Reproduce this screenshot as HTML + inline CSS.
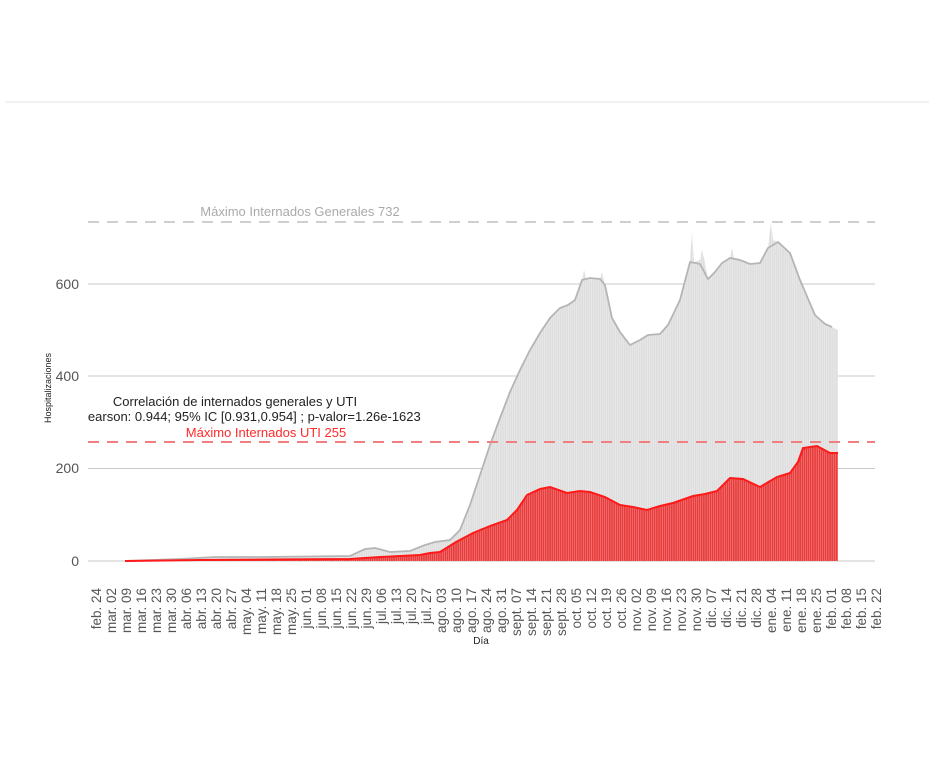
<!DOCTYPE html><html><head><meta charset="utf-8"><style>body{margin:0;background:#fff}svg{display:block;font-family:"Liberation Sans",Arial,sans-serif}</style></head><body>
<svg width="929" height="781" viewBox="0 0 929 781">
<defs>
<pattern id="pg" width="2.137" height="10" patternUnits="userSpaceOnUse"><rect width="2.137" height="10" fill="#dedede"/><rect x="1.7" width="0.45" height="10" fill="#f2f2f2"/></pattern>
<pattern id="pr" width="2.137" height="10" patternUnits="userSpaceOnUse"><rect width="2.137" height="10" fill="#e83c3c"/><rect x="1.7" width="0.45" height="10" fill="#f7a0a0"/></pattern>
<clipPath id="cl"><rect x="88" y="380" width="800" height="60"/></clipPath>
</defs>
<line x1="5" y1="102" x2="929" y2="102" stroke="#e3e3e3" stroke-width="1"/>
<g stroke="#c8c8c8" stroke-width="1">
<line x1="88" y1="561" x2="875" y2="561"/><line x1="88" y1="468.5" x2="875" y2="468.5"/><line x1="88" y1="376" x2="875" y2="376"/><line x1="88" y1="284" x2="875" y2="284"/>
</g>
<g font-size="14" fill="#555" text-anchor="end"><text x="79" y="566">0</text><text x="79" y="473">200</text><text x="79" y="381">400</text><text x="79" y="289">600</text></g>
<text transform="translate(51,388) rotate(-90)" font-size="9" text-anchor="middle" fill="#222">Hospitalizaciones</text>
<polygon fill="url(#pg)" points="125,561 180,559 215,557 260,557 350,556 365,549 375,548 390,552 410,551 425,545 435,542 450,540 460,530 470,505 480,475 490,445 500,418 510,392 520,370 530,350 540,333 550,318 560,308 568,305 575,300 582,280 584,270 586,278 590,278 600,279 602,272 605,285 612,318 620,332 630,345 640,340 648,335 660,334 668,325 680,300 690,262 692,232 694,262 700,260 702,250 704,258 708,279 715,272 722,263 730,258 732,248 734,258 740,260 750,264 760,263 768,248 771,222 773,240 778,242 790,253 800,280 815,315 825,324 832,327 838,330 838,561"/>
<polyline fill="none" stroke="#b5b5b5" stroke-width="1.8" points="125,561 180,559 215,557 260,557 350,556 365,549 375,548 390,552 410,551 425,545 435,542 450,540 460,530 470,505 480,475 490,445 500,418 510,392 520,370 530,350 540,333 550,318 560,308 568,305 575,300 582,280 590,278 600,279 605,285 612,318 620,332 630,345 640,340 648,335 660,334 668,325 680,300 690,262 700,264 708,279 715,272 722,263 730,258 740,260 750,264 760,263 768,248 778,242 790,253 800,280 815,315 825,324 832,327"/>
<polygon fill="url(#pr)" points="125,561 200,560 350,559 380,557 420,555 430,553 440,552 456,542 473,533 490,526 507,520 517,510 527,495 540,489 550,487 567,493 580,491 590,492 605,497 620,505 633,507 647,510 660,506 673,503 693,496 705,494 717,491 730,478 743,479 760,487 777,477 790,473 798,462 803,448 817,446 830,453 838,453 838,561"/>
<polyline fill="none" stroke="#ff1a1a" stroke-width="2" points="125,561 200,560 350,559 380,557 420,555 430,553 440,552 456,542 473,533 490,526 507,520 517,510 527,495 540,489 550,487 567,493 580,491 590,492 605,497 620,505 633,507 647,510 660,506 673,503 693,496 705,494 717,491 730,478 743,479 760,487 777,477 790,473 798,462 803,448 817,446 830,453 838,453"/>
<line x1="88" y1="222" x2="875" y2="222" stroke="#cfcfcf" stroke-width="2" stroke-dasharray="11,8"/>
<line x1="88" y1="442" x2="875" y2="442" stroke="#f08080" stroke-width="2" stroke-dasharray="11,8"/>
<text x="300" y="216" font-size="13" fill="#aaa" text-anchor="middle">Máximo Internados Generales 732</text>
<text x="235" y="406" font-size="13" fill="#222" text-anchor="middle">Correlación de internados generales y UTI</text>
<text x="250" y="421" font-size="13" fill="#222" text-anchor="middle" clip-path="url(#cl)">Pearson: 0.944; 95% IC [0.931,0.954] ; p-valor=1.26e-1623</text>
<text x="266" y="437" font-size="13" fill="#ff2a2a" text-anchor="middle">Máximo Internados UTI 255</text>
<g font-size="13.5" fill="#555" text-anchor="end">
<text transform="translate(101,588) rotate(-90)">feb. 24</text>
<text transform="translate(116,588) rotate(-90)">mar. 02</text>
<text transform="translate(131,588) rotate(-90)">mar. 09</text>
<text transform="translate(146,588) rotate(-90)">mar. 16</text>
<text transform="translate(161,588) rotate(-90)">mar. 23</text>
<text transform="translate(176,588) rotate(-90)">mar. 30</text>
<text transform="translate(191,588) rotate(-90)">abr. 06</text>
<text transform="translate(206,588) rotate(-90)">abr. 13</text>
<text transform="translate(221,588) rotate(-90)">abr. 20</text>
<text transform="translate(236,588) rotate(-90)">abr. 27</text>
<text transform="translate(251,588) rotate(-90)">may. 04</text>
<text transform="translate(266,588) rotate(-90)">may. 11</text>
<text transform="translate(281,588) rotate(-90)">may. 18</text>
<text transform="translate(296,588) rotate(-90)">may. 25</text>
<text transform="translate(311,588) rotate(-90)">jun. 01</text>
<text transform="translate(326,588) rotate(-90)">jun. 08</text>
<text transform="translate(341,588) rotate(-90)">jun. 15</text>
<text transform="translate(356,588) rotate(-90)">jun. 22</text>
<text transform="translate(371,588) rotate(-90)">jun. 29</text>
<text transform="translate(386,588) rotate(-90)">jul. 06</text>
<text transform="translate(401,588) rotate(-90)">jul. 13</text>
<text transform="translate(416,588) rotate(-90)">jul. 20</text>
<text transform="translate(431,588) rotate(-90)">jul. 27</text>
<text transform="translate(446,588) rotate(-90)">ago. 03</text>
<text transform="translate(461,588) rotate(-90)">ago. 10</text>
<text transform="translate(476,588) rotate(-90)">ago. 17</text>
<text transform="translate(491,588) rotate(-90)">ago. 24</text>
<text transform="translate(506,588) rotate(-90)">ago. 31</text>
<text transform="translate(521,588) rotate(-90)">sept. 07</text>
<text transform="translate(536,588) rotate(-90)">sept. 14</text>
<text transform="translate(551,588) rotate(-90)">sept. 21</text>
<text transform="translate(566,588) rotate(-90)">sept. 28</text>
<text transform="translate(581,588) rotate(-90)">oct. 05</text>
<text transform="translate(596,588) rotate(-90)">oct. 12</text>
<text transform="translate(611,588) rotate(-90)">oct. 19</text>
<text transform="translate(626,588) rotate(-90)">oct. 26</text>
<text transform="translate(641,588) rotate(-90)">nov. 02</text>
<text transform="translate(656,588) rotate(-90)">nov. 09</text>
<text transform="translate(671,588) rotate(-90)">nov. 16</text>
<text transform="translate(686,588) rotate(-90)">nov. 23</text>
<text transform="translate(701,588) rotate(-90)">nov. 30</text>
<text transform="translate(716,588) rotate(-90)">dic. 07</text>
<text transform="translate(731,588) rotate(-90)">dic. 14</text>
<text transform="translate(746,588) rotate(-90)">dic. 21</text>
<text transform="translate(761,588) rotate(-90)">dic. 28</text>
<text transform="translate(776,588) rotate(-90)">ene. 04</text>
<text transform="translate(791,588) rotate(-90)">ene. 11</text>
<text transform="translate(806,588) rotate(-90)">ene. 18</text>
<text transform="translate(821,588) rotate(-90)">ene. 25</text>
<text transform="translate(836,588) rotate(-90)">feb. 01</text>
<text transform="translate(851,588) rotate(-90)">feb. 08</text>
<text transform="translate(866,588) rotate(-90)">feb. 15</text>
<text transform="translate(881,588) rotate(-90)">feb. 22</text>
</g>
<text x="481" y="644" font-size="10" fill="#222" text-anchor="middle">Día</text>
</svg>
</body></html>
